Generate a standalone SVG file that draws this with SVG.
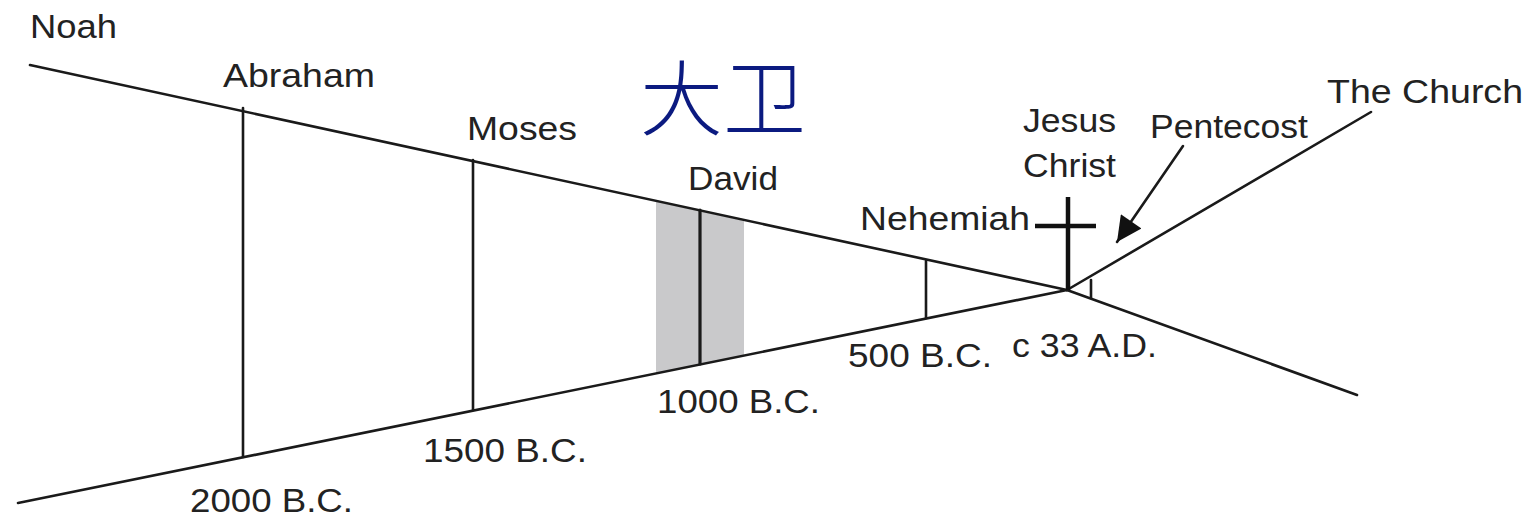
<svg xmlns="http://www.w3.org/2000/svg" width="1540" height="521" viewBox="0 0 1540 521">
<defs>
<style>
.t{font-family:"Liberation Sans",Arial,sans-serif;font-size:33px;fill:#222;}
.ln{stroke:#1a1a1a;stroke-width:2.6;fill:none;stroke-linecap:round;}
.cn{font-family:"Noto Sans CJK SC",sans-serif;font-size:82px;font-weight:300;fill:#0b1a80;}
</style>
<marker id="ah" viewBox="0 0 10 10" refX="10" refY="5" markerWidth="27" markerHeight="25" orient="auto" markerUnits="userSpaceOnUse">
<path d="M0,0 L10,5 L0,10 z" fill="#111"/>
</marker>
</defs>
<rect width="1540" height="521" fill="#fff"/>
<g id="david-band">
<polygon points="656,201.5 744,220.7 744,355.6 656,373.5" fill="#c9c9cb"/>
</g>
<g id="connectors">
<line class="ln" x1="30" y1="65" x2="1067" y2="290"/>
<line class="ln" x1="18" y1="503" x2="1067" y2="290"/>
<line class="ln" x1="1067" y1="290" x2="1357" y2="395"/>
<line class="ln" x1="1067" y1="290" x2="1371" y2="112"/>
<line class="ln" x1="243" y1="108" x2="243" y2="457"/>
<line class="ln" x1="473" y1="160" x2="473" y2="410"/>
<line class="ln" x1="700" y1="210" x2="700" y2="364" style="stroke-width:3.2"/>
<line class="ln" x1="926" y1="261" x2="926" y2="318"/>
<line class="ln" x1="1091" y1="280" x2="1091" y2="298"/>
<line class="ln" x1="1183" y1="146" x2="1117" y2="242" marker-end="url(#ah)"/>
</g>
<g id="cross">
<line x1="1068" y1="197" x2="1068" y2="290" stroke="#111" stroke-width="4.5"/>
<line x1="1035" y1="226" x2="1096" y2="226" stroke="#111" stroke-width="4.5"/>
</g>
<g id="noah"><text class="t" x="30" y="38" textLength="87" lengthAdjust="spacingAndGlyphs">Noah</text></g>
<g id="abraham"><text class="t" x="223" y="87" textLength="152" lengthAdjust="spacingAndGlyphs">Abraham</text></g>
<g id="moses"><text class="t" x="467" y="140" textLength="110" lengthAdjust="spacingAndGlyphs">Moses</text></g>
<g id="david"><text class="t" x="688" y="190" textLength="90" lengthAdjust="spacingAndGlyphs">David</text>
<text class="cn" x="640" y="129" textLength="166" lengthAdjust="spacingAndGlyphs">大卫</text></g>
<g id="nehemiah"><text class="t" x="860" y="230" textLength="170" lengthAdjust="spacingAndGlyphs">Nehemiah</text></g>
<g id="jesus"><text class="t" x="1023" y="132" textLength="93" lengthAdjust="spacingAndGlyphs">Jesus</text>
<text class="t" x="1023" y="177" textLength="93" lengthAdjust="spacingAndGlyphs">Christ</text></g>
<g id="pentecost"><text class="t" x="1150" y="138" textLength="158" lengthAdjust="spacingAndGlyphs">Pentecost</text></g>
<g id="church"><text class="t" x="1327" y="103" textLength="196" lengthAdjust="spacingAndGlyphs">The Church</text></g>
<g id="d2000"><text class="t" x="190" y="512" textLength="163" lengthAdjust="spacingAndGlyphs">2000 B.C.</text></g>
<g id="d1500"><text class="t" x="423" y="462" textLength="164" lengthAdjust="spacingAndGlyphs">1500 B.C.</text></g>
<g id="d1000"><text class="t" x="657" y="413" textLength="163" lengthAdjust="spacingAndGlyphs">1000 B.C.</text></g>
<g id="d500"><text class="t" x="848" y="367" textLength="144" lengthAdjust="spacingAndGlyphs">500 B.C.</text></g>
<g id="d33"><text class="t" x="1012" y="357" textLength="145" lengthAdjust="spacingAndGlyphs">c 33 A.D.</text></g>
</svg>
